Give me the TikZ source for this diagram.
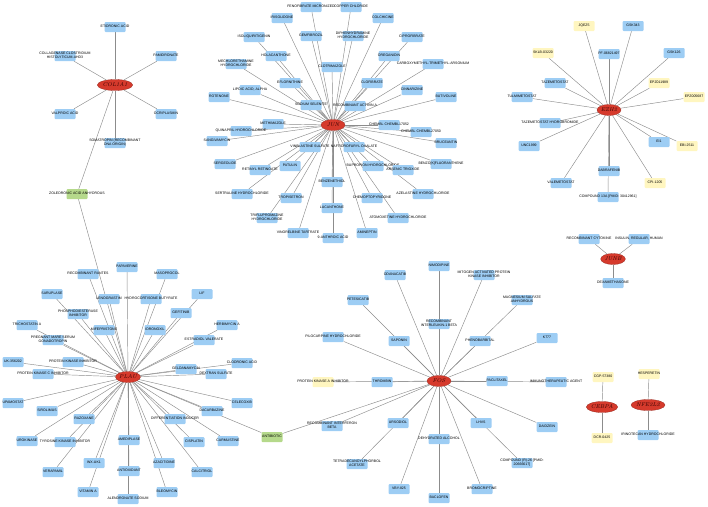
\documentclass[tikz,border=0pt]{standalone}
\usepackage{fontspec}
\setsansfont{Liberation Sans}
\usetikzlibrary{shapes.geometric,backgrounds}

\definecolor{drugblue}{HTML}{9DCDF4}
\definecolor{drugyellow}{HTML}{FFF6C0}
\definecolor{druggreen}{HTML}{B5D98B}
\definecolor{genered}{HTML}{D63A2C}
\definecolor{linkgray}{HTML}{8C8C8C}

% label wider than its box, as in the network export
\newcommand\tx[1]{\makebox[0pt]{\begin{tabular}{@{}c@{}}#1\end{tabular}}}

\tikzset{
  drug/.style={rectangle, rounded corners=1pt, fill=drugblue, minimum width=21pt,
    minimum height=10pt, inner sep=0pt, font=\sffamily\fontsize{3.5}{3.9}\selectfont},
  drugy/.style={drug, fill=drugyellow},
  drugg/.style={drug, fill=druggreen},
  gene/.style={ellipse, fill=genered, draw=genered!70!black, line width=0.3pt,
    minimum width=24pt, minimum height=11pt, inner sep=0pt, text=black!80!red,
    font=\itshape\fontsize{5.5}{6}\selectfont},
  link/.style={draw=linkgray, line width=0.45pt}
}

\begin{document}
\begin{tikzpicture}[x=1pt, y=-1pt]
  \useasboundingbox (0,0) rectangle (708,506);

  % COL1A1
  \node[gene] (col1a1) at (115,85) {COL1A1};
  \node[drug] (etidronic) at (115,27) {\tx{ETIDRONIC ACID}};
  \node[drug] (collagenase) at (65,56) {\tx{COLLAGENASE CLOSTRIDIUM\\HISTOLYTICUM-AHD3}};
  \node[drug] (pamidronate) at (166,56) {\tx{PAMIDRONATE}};
  \node[drug] (valproic) at (65,114) {\tx{VALPROIC ACID}};
  \node[drug] (ocriplasmin) at (166,114) {\tx{OCRIPLASMIN}};
  \node[drug] (somatropin) at (115,143) {\tx{SOMATROPIN (RECOMBINANT\\DNA ORIGIN)}};
  \node[drugg] (zoledronic) at (77,194) {\tx{ZOLEDRONIC ACID ANHYDROUS}};

  % JUN
  \node[gene] (jun) at (333,125) {JUN};
  \node[drug] (fenofibrate) at (311,7) {\tx{FENOFIBRATE MICRONIZED}};
  \node[drug] (copper) at (351,7) {\tx{COPPER CHLORIDE}};
  \node[drug] (irisolidone) at (282,18) {\tx{IRISOLIDONE}};
  \node[drug] (colchicine) at (383,18) {\tx{COLCHICINE}};
  \node[drug] (gemfibrozil) at (311,36) {\tx{GEMFIBROZIL}};
  \node[drug] (diphenhydramine) at (353,36) {\tx{DIPHENHYDRAMINE\\HYDROCHLORIDE}};
  \node[drug] (ciprofibrate) at (412,37) {\tx{CIPROFIBRATE}};
  \node[drug] (isoliquiritigenin) at (254,37) {\tx{ISOLIQUIRITIGENIN}};
  \node[drug] (holacanthone) at (276,56) {\tx{HOLACANTHONE}};
  \node[drug] (oreganidin) at (389,56) {\tx{OREGANIDIN}};
  \node[drug] (mechlorethamine) at (236,64) {\tx{MECHLORETHAMINE\\HYDROCHLORIDE}};
  \node[drug] (clotrimazole) at (332,67) {\tx{CLOTRIMAZOLE}};
  \node[drug] (arsonium) at (433,64) {\tx{CARBOXYMETHYL-TRIMETHYL-ARSONIUM}};
  \node[drug] (eflornithine) at (290,83) {\tx{EFLORNITHINE}};
  \node[drug] (clofibrate) at (372,83) {\tx{CLOFIBRATE}};
  \node[drug] (lipoic) at (250,90) {\tx{LIPOIC ACID, ALPHA}};
  \node[drug] (cinnarizine) at (412,90) {\tx{CINNARIZINE}};
  \node[drug] (rotenone) at (219,97) {\tx{ROTENONE}};
  \node[drug] (butivoline) at (446,97) {\tx{BUTIVOLINE}};
  \node[drug] (selenite) at (311,105) {\tx{SODIUM SELENITE}};
  \node[drug] (activin) at (355,106) {\tx{RECOMBINANT ACTIVIN A}};
  \node[drug] (methimazole) at (273,124) {\tx{METHIMAZOLE}};
  \node[drug] (chembla) at (389,125) {\tx{CHEMBL CHEMBL17052}};
  \node[drug] (quinapril) at (241,131) {\tx{QUINAPRIL HYDROCHLORIDE}};
  \node[drug] (chemblb) at (421,132) {\tx{CHEMBL CHEMBL27050}};
  \node[drug] (sangivamycin) at (217,141) {\tx{SANGIVAMYCIN}};
  \node[drug] (bruceantin) at (446,143) {\tx{BRUCEANTIN}};
  \node[drug] (vinblastine) at (310,147) {\tx{VINBLASTINE SULFATE}};
  \node[drug] (naftidrofuryl) at (354,147) {\tx{NAFTIDROFURYL OXALATE}};
  \node[drug] (sergeolide) at (225,164) {\tx{SERGEOLIDE}};
  \node[drug] (patulin) at (290,166) {\tx{PATULIN}};
  \node[drug] (retinyl) at (260,170) {\tx{RETINYL RETINOATE}};
  \node[drug] (bupropion) at (373,166) {\tx{BUPROPION HYDROCHLORIDE}};
  \node[drug] (arsenic) at (403,170) {\tx{ARSENIC TRIOXIDE}};
  \node[drug] (benzofluor) at (441,164) {\tx{BENZO[K]FLUORANTHENE}};
  \node[drug] (sertraline) at (242,194) {\tx{SERTRALINE HYDROCHLORIDE}};
  \node[drug] (benzenethiol) at (332,182) {\tx{BENZENETHIOL}};
  \node[drug] (tropisetron) at (291,198) {\tx{TROPISETRON}};
  \node[drug] (pyridone) at (372,198) {\tx{CHEMOPTOPYRIDONE}};
  \node[drug] (azelastine) at (423,194) {\tx{AZELASTINE HYDROCHLORIDE}};
  \node[drug] (lucanthone) at (332,208) {\tx{LUCANTHONE}};
  \node[drug] (triflupromazine) at (267,218) {\tx{TRIFLUPROMAZINE\\HYDROCHLORIDE}};
  \node[drug] (atomoxetine) at (398,218) {\tx{ATOMOXETINE HYDROCHLORIDE}};
  \node[drug] (vinorelbine) at (298,233) {\tx{VINORELBINE TARTRATE}};
  \node[drug] (anthroic) at (333,238) {\tx{9-ANTHROIC ACID}};
  \node[drug] (amineptin) at (367,233) {\tx{AMINEPTIN}};

  % EZH2
  \node[gene] (ezh2) at (609,110) {EZH2};
  \node[drugy] (jqez5) at (584,26) {\tx{JQEZ5}};
  \node[drug] (gsk343) at (633,26) {\tx{GSK343}};
  \node[drugy] (sklb) at (543,53) {\tx{SKLB-03220}};
  \node[drug] (pf068) at (609,54) {\tx{PF-06821497}};
  \node[drug] (gsk126) at (674,53) {\tx{GSK126}};
  \node[drug] (tazemetostat) at (555,83) {\tx{TAZEMETOSTAT}};
  \node[drugy] (epz011) at (659,83) {\tx{EPZ011989}};
  \node[drug] (tulmimetostat) at (522,97) {\tx{TULMIMETOSTAT}};
  \node[drugy] (epz005) at (694,97) {\tx{EPZ005687}};
  \node[drug] (tazhbr) at (550,123) {\tx{TAZEMETOSTAT HYDROBROMIDE}};
  \node[drug] (unc1999) at (529,146) {\tx{UNC1999}};
  \node[drug] (ei1) at (659,142) {\tx{EI1}};
  \node[drugy] (ebi2511) at (687,146) {\tx{EBI-2511}};
  \node[drug] (valemetostat) at (561,183) {\tx{VALEMETOSTAT}};
  \node[drug] (dabrafenib) at (609,171) {\tx{DABRAFENIB}};
  \node[drugy] (cpi1205) at (655,183) {\tx{CPI-1205}};
  \node[drug] (compound13a) at (608,197) {\tx{COMPOUND 13A [PMID: 30412961]}};

  % JUNB
  \node[gene] (junb) at (613,259) {JUNB};
  \node[drug] (cytokine) at (589,239) {\tx{RECOMBINANT CYTOKINE}};
  \node[drug] (insulin) at (639,239) {\tx{INSULIN, REGULAR, HUMAN}};
  \node[drug] (dexamethasone) at (613,283) {\tx{DEXAMETHASONE}};

  % PLAU
  \node[gene] (plau) at (128,377) {PLAU};
  \node[drug] (papaverine) at (127,267) {\tx{PAPAVERINE}};
  \node[drug] (rantes) at (88,274) {\tx{RECOMBINANT RANTES}};
  \node[drug] (masoprocol) at (167,274) {\tx{MASOPROCOL}};
  \node[drug] (saruplase) at (52,294) {\tx{SARUPLASE}};
  \node[drug] (lenograstim) at (109,299) {\tx{LENOGRASTIM}};
  \node[drug] (hydrocortisone) at (151,299) {\tx{HYDROCORTISONE BUTYRATE}};
  \node[drug] (lif) at (202,294) {\tx{LIF}};
  \node[drug] (pde) at (78,314) {\tx{PHOSPHODIESTERASE\\INHIBITOR}};
  \node[drug] (gefitinib) at (181,313) {\tx{GEFITINIB}};
  \node[drug] (trichostatin) at (27,325) {\tx{TRICHOSTATIN A}};
  \node[drug] (herbimycin) at (227,325) {\tx{HERBIMYCIN A}};
  \node[drug] (mifepristone) at (104,330) {\tx{MIFEPRISTONE}};
  \node[drug] (idronoxil) at (155,330) {\tx{IDRONOXIL}};
  \node[drug] (pmsg) at (53,340) {\tx{PREGNANT MARE SERUM\\GONADOTROPIN}};
  \node[drug] (estradiol) at (204,340) {\tx{ESTRADIOL VALERATE}};
  \node[drug] (uk356) at (13,362) {\tx{UK-356202}};
  \node[drug] (pki) at (73,362) {\tx{PROTEIN KINASE INHIBITOR}};
  \node[drug] (clodronic) at (242,363) {\tx{CLODRONIC ACID}};
  \node[drug] (geldanamycin) at (186,369) {\tx{GELDANAMYCIN}};
  \node[drug] (dextran) at (216,374) {\tx{DEXTRAN SULFATE}};
  \node[drug] (pkci) at (43,374) {\tx{PROTEIN KINASE C INHIBITOR}};
  \node[drug] (upamostat) at (13,403) {\tx{UPAMOSTAT}};
  \node[drug] (celecoxib) at (242,403) {\tx{CELECOXIB}};
  \node[drug] (sirolimus) at (47,411) {\tx{SIROLIMUS}};
  \node[drug] (dacarbazine) at (212,411) {\tx{DACARBAZINE}};
  \node[drug] (razoxane) at (84,419) {\tx{RAZOXANE}};
  \node[drug] (differentiation) at (175,419) {\tx{DIFFERENTIATION INDUCER}};
  \node[drug] (urokinase) at (27,441) {\tx{UROKINASE}};
  \node[drug] (tki) at (65,442) {\tx{TYROSINE KINASE INHIBITOR}};
  \node[drug] (amediplase) at (129,440) {\tx{AMEDIPLASE}};
  \node[drug] (cisplatin) at (194,442) {\tx{CISPLATIN}};
  \node[drug] (carmustine) at (228,441) {\tx{CARMUSTINE}};
  \node[drug] (verapamil) at (53,472) {\tx{VERAPAMIL}};
  \node[drug] (wxuk1) at (94,463) {\tx{WX-UK1}};
  \node[drug] (antioxidant) at (129,471) {\tx{ANTIOXIDANT}};
  \node[drug] (azacitidine) at (164,463) {\tx{AZACITIDINE}};
  \node[drug] (calcitriol) at (202,472) {\tx{CALCITRIOL}};
  \node[drug] (vitamina) at (88,492) {\tx{VITAMIN A}};
  \node[drug] (alendronate) at (128,499) {\tx{ALENDRONATE SODIUM}};
  \node[drug] (bleomycin) at (167,492) {\tx{BLEOMYCIN}};
  \node[drugg] (antibiotic) at (272,437) {\tx{ANTIBIOTIC}};

  % FOS
  \node[gene] (fos) at (439,381) {FOS};
  \node[drug] (nimodipine) at (439,266) {\tx{NIMODIPINE}};
  \node[drug] (odanacatib) at (395,275) {\tx{ODANACATIB}};
  \node[drug] (mapki) at (484,275) {\tx{MITOGEN ACTIVATED PROTEIN\\KINASE INHIBITOR}};
  \node[drug] (petesicatib) at (358,300) {\tx{PETESICATIB}};
  \node[drug] (magnesium) at (522,300) {\tx{MAGNESIUM SULFATE\\ANHYDROUS}};
  \node[drug] (il1b) at (439,324) {\tx{RECOMBINANT\\INTERLEUKIN-1 BETA}};
  \node[drug] (saponin) at (399,341) {\tx{SAPONIN}};
  \node[drug] (phenobarbital) at (480,341) {\tx{PHENOBARBITAL}};
  \node[drug] (k777) at (547,338) {\tx{K777}};
  \node[drug] (pilocarpine) at (333,337) {\tx{PILOCARPINE HYDROCHLORIDE}};
  \node[drugy] (pkai) at (323,382) {\tx{PROTEIN KINASE A INHIBITOR}};
  \node[drug] (thrombin) at (382,382) {\tx{THROMBIN}};
  \node[drug] (paclitaxel) at (497,381) {\tx{PACLITAXEL}};
  \node[drug] (immuno) at (556,382) {\tx{IMMUNOTHERAPEUTIC AGENT}};
  \node[drug] (ifnb) at (332,426) {\tx{RECOMBINANT INTERFERON\\BETA}};
  \node[drug] (ursodiol) at (398,423) {\tx{URSODIOL}};
  \node[drug] (alcohol) at (439,439) {\tx{DEHYDRATED ALCOHOL}};
  \node[drug] (lhvs) at (481,423) {\tx{LHVS}};
  \node[drug] (daidzein) at (547,427) {\tx{DAIDZEIN}};
  \node[drug] (tpa) at (357,464) {\tx{TETRADECANOYLPHORBOL\\ACETATE}};
  \node[drug] (compoundr26) at (522,463) {\tx{COMPOUND (R)-26 [PMID:\\20666617]}};
  \node[drug] (vby825) at (399,489) {\tx{VBY-825}};
  \node[drug] (baclofen) at (439,498) {\tx{BACLOFEN}};
  \node[drug] (bromocriptine) at (482,489) {\tx{BROMOCRIPTINE}};

  % CEBPA, NFE2L2
  \node[gene] (cebpa) at (602,407) {CEBPA};
  \node[drugy] (cgp) at (603,377) {\tx{CGP-57380}};
  \node[drugy] (dcr) at (602,438) {\tx{DCR-0425}};
  \node[gene] (nfe2l2) at (648,405) {NFE2L2};
  \node[drugy] (hesperetin) at (649,374) {\tx{HESPERETIN}};
  \node[drug] (irinotecan) at (648,435) {\tx{IRINOTECAN HYDROCHLORIDE}};

  \begin{pgfonlayer}{background}
  \path[link] (col1a1) edge (etidronic) edge (collagenase) edge (pamidronate)
    edge (valproic) edge (ocriplasmin) edge (somatropin) edge (zoledronic);
  \path[link] (jun) edge (fenofibrate) edge (copper) edge (irisolidone) edge (colchicine)
    edge (gemfibrozil) edge (diphenhydramine) edge (ciprofibrate) edge (isoliquiritigenin)
    edge (holacanthone) edge (oreganidin) edge (mechlorethamine) edge (clotrimazole)
    edge (arsonium) edge (eflornithine) edge (clofibrate) edge (lipoic) edge (cinnarizine)
    edge (rotenone) edge (butivoline) edge (selenite) edge (activin) edge (methimazole)
    edge (chembla) edge (quinapril) edge (chemblb) edge (sangivamycin) edge (bruceantin)
    edge (vinblastine) edge (naftidrofuryl) edge (sergeolide) edge (patulin) edge (retinyl)
    edge (bupropion) edge (arsenic) edge (benzofluor) edge (sertraline) edge (benzenethiol)
    edge (tropisetron) edge (pyridone) edge (azelastine) edge (lucanthone)
    edge (triflupromazine) edge (atomoxetine) edge (vinorelbine) edge (anthroic)
    edge (amineptin);
  \path[link] (ezh2) edge (jqez5) edge (gsk343) edge (sklb) edge (pf068) edge (gsk126)
    edge (tazemetostat) edge (epz011) edge (tulmimetostat) edge (epz005) edge (tazhbr)
    edge (unc1999) edge (ei1) edge (ebi2511) edge (valemetostat) edge (dabrafenib)
    edge (cpi1205) edge (compound13a);
  \path[link] (junb) edge (cytokine) edge (insulin) edge (dexamethasone);
  \path[link] (plau) edge (zoledronic) edge (papaverine) edge (rantes) edge (masoprocol)
    edge (saruplase) edge (lenograstim) edge (hydrocortisone) edge (lif) edge (pde)
    edge (gefitinib) edge (trichostatin) edge (herbimycin) edge (mifepristone)
    edge (idronoxil) edge (pmsg) edge (estradiol) edge (uk356) edge (pki) edge (clodronic)
    edge (geldanamycin) edge (dextran) edge (pkci) edge (upamostat) edge (celecoxib)
    edge (sirolimus) edge (dacarbazine) edge (razoxane) edge (differentiation)
    edge (urokinase) edge (tki) edge (amediplase) edge (cisplatin) edge (carmustine)
    edge (verapamil) edge (wxuk1) edge (antioxidant) edge (azacitidine) edge (calcitriol)
    edge (vitamina) edge (alendronate) edge (bleomycin) edge (antibiotic);
  \path[link] (fos) edge (antibiotic) edge (nimodipine) edge (odanacatib) edge (mapki)
    edge (petesicatib) edge (magnesium) edge (il1b) edge (saponin) edge (phenobarbital)
    edge (k777) edge (pilocarpine) edge (pkai) edge (thrombin) edge (paclitaxel)
    edge (immuno) edge (ifnb) edge (ursodiol) edge (alcohol) edge (lhvs) edge (daidzein)
    edge (tpa) edge (compoundr26) edge (vby825) edge (baclofen) edge (bromocriptine);
  \path[link] (cebpa) edge (cgp) edge (dcr);
  \path[link] (nfe2l2) edge (hesperetin) edge (irinotecan);
  \end{pgfonlayer}
\end{tikzpicture}
\end{document}
